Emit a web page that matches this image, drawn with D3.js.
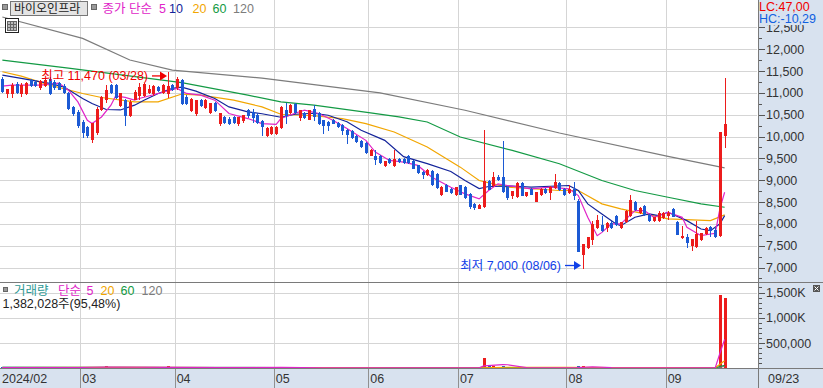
<!DOCTYPE html>
<html><head><meta charset="utf-8">
<script src="https://cdn.jsdelivr.net/npm/d3@7"></script>
<style>
body{margin:0;background:#fff;}
svg{display:block;}
text{font-family:"Liberation Sans","Noto Sans CJK KR",sans-serif;}
</style>
</head><body>
<svg id="c" width="823" height="388"></svg>
<script>
// ---------------- DATA ----------------
const dates = ["02/05","02/06","02/07","02/08","02/13","02/14","02/15","02/16","02/19","02/20","02/21","02/22","02/23","02/26","02/27","02/28","02/29",
"03/04","03/05","03/06","03/07","03/08","03/11","03/12","03/13","03/14","03/15","03/18","03/19","03/20","03/21","03/22","03/25","03/26","03/27","03/28","03/29",
"04/01","04/02","04/03","04/04","04/05","04/08","04/09","04/11","04/12","04/15","04/16","04/17","04/18","04/19","04/22","04/23","04/24","04/25","04/26","04/29","04/30",
"05/02","05/03","05/07","05/08","05/09","05/10","05/13","05/14","05/16","05/17","05/20","05/21","05/22","05/23","05/24","05/27","05/28","05/29","05/30","05/31",
"06/03","06/04","06/05","06/07","06/10","06/11","06/12","06/13","06/14","06/17","06/18","06/19","06/20","06/21","06/24","06/25","06/26","06/27","06/28",
"07/01","07/02","07/03","07/04","07/05","07/08","07/09","07/10","07/11","07/12","07/15","07/16","07/17","07/18","07/19","07/22","07/23","07/24","07/25","07/26","07/29","07/30","07/31",
"08/01","08/02","08/05","08/06","08/07","08/08","08/09","08/12","08/13","08/14","08/16","08/19","08/20","08/21","08/22","08/23","08/26","08/27","08/28","08/29","08/30",
"09/02","09/03","09/04","09/05","09/06","09/09","09/10","09/11","09/12","09/13","09/19","09/20","09/23"];

const openPrices = [11330,10990,10990,11200,10990,10990,11290,11250,11130,11180,11330,11250,11230,11160,10990,10680,10570,
10340,10220,9950,10110,10640,10870,11180,11180,10720,10830,10490,10870,10950,10950,11030,10990,11140,11030,10990,11180,
11140,11290,10910,10600,10530,10830,10680,10570,10760,10300,10450,10410,10450,10300,10370,10600,10560,10500,10350,10030,10080,
10080,10220,10600,10560,10740,10450,10530,10410,10640,10540,10370,10330,10390,10310,10260,10160,10130,10010,9910,9850,
9580,9550,9550,9340,9490,9340,9490,9490,9550,9450,9340,9190,9150,9220,9150,8690,8890,8800,8690,
8880,8840,8690,8460,8370,8400,8990,8880,9080,9070,8840,8650,8640,8930,8650,8800,8530,8690,8800,8720,8840,8930,8800,
8720,8800,8530,7310,7460,7650,7920,7980,7920,8030,8170,7920,8070,8210,8500,8270,8420,8210,8080,8080,8150,
8200,8340,8040,7690,7690,7520,7500,7650,7780,7920,7860,7740,10030];
const highPrices = [11370,11100,11220,11240,11230,11250,11310,11290,11290,11330,11360,11290,11260,11200,11020,10700,10600,
10370,10250,10300,10680,10930,11180,11210,11200,11000,10860,10830,11060,11220,11230,11180,11180,11170,11200,11470,11210,
11370,11320,10950,10890,10840,10860,10860,10770,10790,10550,10480,10440,10470,10460,10500,10630,10640,10530,10370,10220,10240,
10240,10700,10770,10740,10760,10620,10560,10620,10720,10560,10390,10350,10410,10330,10280,10180,10150,10030,9930,9870,
9710,9700,9570,9450,9510,9700,9510,9520,9570,9470,9360,9210,9260,9240,9170,8870,8910,8820,8850,
8900,8860,8710,8480,8450,10140,9010,9180,9120,9910,8860,8760,8950,8950,8730,8830,8740,8820,8820,8860,9150,8960,8830,
8880,8970,8560,7540,7700,8070,8200,8190,8040,8060,8200,8050,8310,8650,8530,8380,8440,8230,8160,8290,8270,
8300,8370,8060,7960,7770,7660,8070,7800,7920,7960,7900,10110,11350];
const lowPrices = [11030,10910,10910,11000,10930,10980,11160,11150,11080,11150,10970,11100,11080,10990,10640,10500,10220,
9990,10000,9880,10060,10600,10800,10990,10880,10690,10260,10470,10850,10870,10920,10990,10960,11040,11000,10910,11070,
11100,10750,10740,10580,10500,10690,10650,10540,10580,10270,10310,10280,10320,10270,10340,10460,10340,10320,10030,10010,10060,
10060,10200,10300,10540,10540,10390,10430,10400,10370,10290,10080,10140,10300,10210,10070,9850,9970,9880,9760,9630,
9570,9380,9400,9320,9400,9320,9420,9400,9400,9270,9170,9060,9130,8900,8830,8670,8750,8700,8670,
8680,8590,8360,8340,8360,8380,8800,8860,9010,8740,8580,8600,8620,8660,8630,8680,8520,8660,8700,8570,8820,8780,8670,
8700,8570,7370,7000,7440,7540,7900,7840,7840,7900,7980,7900,8050,8190,8320,8250,8210,8060,8060,8060,8130,
8110,8190,7760,7680,7460,7410,7480,7630,7760,7730,7710,7720,9760];
const closePrices = [11050,11080,11180,11030,11180,11230,11180,11180,11280,11290,10990,11140,11100,11030,10650,10530,10260,
10110,10030,10300,10640,10910,11060,11030,10910,10990,10490,10800,11020,11140,11200,11100,11150,11060,11180,11160,11100,
11310,10760,10760,10870,10830,10720,10830,10760,10600,10530,10340,10300,10340,10450,10490,10490,10460,10340,10240,10200,10230,
10220,10680,10490,10720,10560,10600,10450,10600,10470,10300,10260,10260,10310,10240,10140,10070,9990,9900,9780,9650,
9700,9490,9420,9440,9420,9490,9430,9420,9420,9290,9190,9150,9240,8920,8840,8850,8760,8730,8840,
8690,8610,8420,8380,8440,8990,8810,9070,9030,8760,8620,8750,8930,8670,8720,8690,8720,8800,8720,8850,8950,8800,8690,
8800,8670,7380,7540,7690,8000,8090,7850,8030,7920,8000,8040,8300,8550,8340,8370,8230,8080,8150,8240,8260,
8260,8190,7770,7730,7580,7650,7770,7780,7900,7850,7730,10100,10290];

const volumes = [21000,15000,18000,14000,16000,22000,12000,11000,17000,13000,19000,12000,10000,14000,26000,18000,24000,
28000,22000,25000,31000,27000,42000,20000,18000,23000,26000,17000,21000,19000,16000,13000,15000,12000,14000,45000,16000,
22000,30000,18000,21000,19000,14000,15000,17000,13000,20000,12000,11000,12000,14000,13000,11000,12000,15000,13000,18000,14000,
12000,38000,25000,18000,16000,14000,12000,15000,17000,16000,18000,13000,11000,10000,14000,16000,15000,13000,14000,18000,
12000,14000,11000,10000,9000,13000,10000,9000,11000,14000,15000,12000,10000,16000,18000,14000,11000,10000,12000,
13000,15000,19000,14000,12000,200000,45000,52000,30000,48000,26000,18000,22000,17000,12000,13000,11000,14000,10000,15000,20000,13000,12000,
10000,14000,45000,40000,25000,30000,22000,15000,12000,11000,13000,12000,18000,26000,15000,12000,14000,16000,10000,12000,11000,
10000,12000,18000,14000,15000,12000,11000,16000,10000,9000,11000,1447400,1382028];

const ma5 = [["02/05",11156],["02/07",11179],["02/19",11179],["02/23",11225],["02/27",11064],["02/29",10795],["03/05",10374],["03/06",10298],
["03/08",10450],["03/12",10719],["03/13",10930],["03/15",10900],["03/19",10834],["03/20",10873],["03/26",10988],["04/01",11103],["04/03",10988],
["04/08",10949],["04/12",10834],["04/17",10528],["04/23",10413],["04/26",10298],["05/02",10282],["05/03",10413],["05/09",10535],["05/13",10604],
["05/17",10528],["05/22",10374],["05/27",10183],["05/31",9914],["06/04",9645],["06/10",9454],["06/13",9415],["06/18",9339],["06/21",9070],
["06/27",8840],["07/02",8688],["07/05",8573],["07/09",8764],["07/11",8918],["07/15",8879],["07/22",8803],["07/26",8840],["08/01",8803],
["08/05",8649],["08/07",8150],["08/09",7729],["08/12",7805],["08/14",7998],["08/19",7998],["08/22",8304],["08/26",8304],["08/28",8150],
["09/02",8265],["09/05",8150],["09/06",7920],["09/11",7729],["09/13",7768],["09/19",7780],["09/20",8350],["09/23",8725]];
const ma10 = [["02/05",11409],["02/13",11333],["02/21",11218],["02/26",11140],["03/04",10873],["03/06",10758],["03/11",10620],["03/14",10610],
["03/19",10720],["03/21",10834],["03/26",10988],["03/29",11103],["04/02",11133],["04/05",11041],["04/12",10873],["04/17",10680],["04/23",10565],
["04/26",10523],["05/03",10443],["05/09",10512],["05/16",10535],["05/21",10489],["05/27",10339],["05/30",10144],["06/07",9914],["06/13",9540],
["06/20",9380],["06/27",9200],["07/02",8994],["07/05",8810],["07/09",8856],["07/16",8867],["07/22",8840],["08/01",8879],["08/05",8764],
["08/07",8458],["08/12",8228],["08/16",7998],["08/19",7959],["08/22",8151],["08/27",8228],["08/29",8189],["09/02",8265],["09/06",8074],
["09/11",7883],["09/13",7844],["09/20",8002],["09/23",8189]];
const ma20 = [["02/05",11485],["02/13",11386],["02/21",11179],["03/04",10988],["03/08",10896],["03/19",10795],["03/26",10795],["04/02",10975],
["04/08",10950],["04/18",10834],["04/26",10680],["05/03",10512],["05/16",10477],["05/24",10413],["05/31",10298],["06/11",10105],["06/20",9760],
["07/01",9300],["07/05",8994],["07/10",8918],["07/15",8840],["07/30",8764],["08/05",8764],["08/12",8458],["08/19",8343],["09/02",8113],
["09/13",8074],["09/23",8205]];
const ma60 = [["02/05",11754],["02/27",11570],["03/22",11333],["04/02",11236],["04/23",10949],["05/03",10795],["05/16",10719],["06/03",10542],
["06/12",10450],["06/20",10335],["07/01",9990],["07/16",9684],["07/30",9378],["08/12",8994],["08/22",8764],["09/02",8610],["09/11",8458],["09/23",8380]];
const ma120 = [["02/05",12740],["03/04",12250],["03/18",11754],["03/29",11524],["04/26",11340],["06/05",11002],["07/02",10604],["07/30",10082],
["09/02",9546],["09/23",9281]];

const volMa5 = [["02/05",17000],["02/29",20000],["03/11",30000],["03/29",21000],["04/15",17000],["05/03",22000],["05/20",15000],["06/14",11000],
["07/05",14000],["07/08",52000],["07/12",75000],["07/15",74000],["07/19",19000],["07/31",14000],["08/05",19000],["08/08",33000],["08/14",18000],
["09/02",13000],["09/19",12000],["09/20",300000],["09/23",575000]];
const volMa20 = [["02/05",20000],["03/15",24000],["04/15",20000],["05/16",16000],["06/14",12000],["07/05",13000],["07/15",25000],["07/31",22000],
["08/14",20000],["09/02",16000],["09/19",13000],["09/20",85000],["09/23",153000]];
const volMa60 = [["02/05",22000],["04/01",20000],["06/03",16000],["07/31",17000],["09/19",15000],["09/20",39000],["09/23",62000]];
const volMa120 = [["02/05",25000],["05/02",20000],["07/31",18000],["09/19",17000],["09/20",29000],["09/23",40000]];

const priceTicks = [7000,7500,8000,8500,9000,9500,10000,10500,11000,11500,12000,12500];
const volTicks = [500000,1000000,1500000];
const volTickLabels = ["500,000","1,000K","1,500K"];
const monthStarts = ["02/05","03/04","04/01","05/02","06/03","07/01","08/01","09/02"];
const monthLabels = ["2024/02","03","04","05","06","07","08","09"];
const lastDateLabel = "09/23";
const stockName = "바이오인프라";
const highNote = {date:"03/28", price:11470, text:"최고 11,470 (03/28)"};
const lowNote = {date:"08/06", price:7000, text:"최저 7,000 (08/06)"};

// ---------------- LAYOUT ----------------
const W = 823, H = 388;
const plotR = 757, axisX = 758;
const volTop = 282, volBase = 368;
const C = {red:"#ec1c1c", blue:"#1c5ad4", m5:"#e024c8", m10:"#13239a", m20:"#f2a600", m60:"#139a44", m120:"#7c7c7c",
  grid:"#d5d5d5", axisBg:"#d8e2ef", axisLine:"#7a7a7a", text:"#333"};

const svg = d3.select("#c");
svg.append("rect").attr("width",W).attr("height",H).attr("fill","#fff");
svg.append("rect").attr("x",axisX).attr("y",0).attr("width",W-axisX).attr("height",H).attr("fill",C.axisBg);
svg.append("rect").attr("x",0).attr("y",volBase).attr("width",W).attr("height",H-volBase).attr("fill",C.axisBg);

const x = d3.scaleBand().domain(dates).range([0, 727]).padding(0);
const bw = x.bandwidth();
const cx = d => Math.round(x(d) + bw/2);
const y = d3.scaleLinear().domain([7000,12000]).range([267.5,49.3]);
const yv = d3.scaleLinear().domain([0,1500000]).range([368.5,292.5]);

const defs = svg.append("defs");
defs.append("clipPath").attr("id","cp").append("rect").attr("x",0).attr("y",0).attr("width",plotR).attr("height",volTop);
defs.append("clipPath").attr("id","cv").append("rect").attr("x",0).attr("y",volTop+1).attr("width",plotR).attr("height",volBase-volTop-1);
defs.append("clipPath").attr("id","ca").append("rect").attr("x",axisX).attr("y",25).attr("width",W-axisX).attr("height",H-25);

// grid
const g = svg.append("g").attr("shape-rendering","crispEdges");
priceTicks.forEach(t => {
  const yy = Math.round(y(t))+0.5;
  if (yy < volTop) g.append("line").attr("x1",0).attr("x2",plotR).attr("y1",yy).attr("y2",yy).attr("stroke",C.grid);
});
volTicks.forEach(t => {
  const yy = Math.round(yv(t))+0.5;
  g.append("line").attr("x1",0).attr("x2",plotR).attr("y1",yy).attr("y2",yy).attr("stroke",C.grid);
});
monthStarts.forEach((d,i) => {
  const xx = Math.round(x(d))+0.5;
  if (i>0) {
    g.append("line").attr("x1",xx).attr("x2",xx).attr("y1",0).attr("y2",volBase).attr("stroke",C.grid);
    g.append("line").attr("x1",xx).attr("x2",xx).attr("y1",volBase).attr("y2",H).attr("stroke","#909090");
  }
  svg.append("text").attr("x",x(d)+2).attr("y",383).attr("font-size",12.5).attr("fill",C.text).text(monthLabels[i]);
});
svg.append("text").attr("x",768).attr("y",383).attr("font-size",12.5).attr("fill",C.text).text(lastDateLabel);

// frame lines
g.append("line").attr("x1",0).attr("x2",W).attr("y1",volTop+0.5).attr("y2",volTop+0.5).attr("stroke",C.axisLine);
g.append("line").attr("x1",0).attr("x2",W).attr("y1",volBase+0.5).attr("y2",volBase+0.5).attr("stroke",C.axisLine);
g.append("line").attr("x1",axisX+0.5).attr("x2",axisX+0.5).attr("y1",0).attr("y2",H).attr("stroke",C.axisLine);

// price axis ticks & labels
const ax = svg.append("g");
d3.range(6750, 13001, 250).forEach(v => {
  const yy = Math.round(y(v))+0.5;
  if (yy<26 || yy>volTop-2) return;
  const major = v % 500 === 0;
  ax.append("line").attr("x1",axisX+1).attr("x2",axisX+(major?7:4)).attr("y1",yy).attr("y2",yy)
    .attr("stroke","#555").attr("shape-rendering","crispEdges");
});
const axl = ax.append("g").attr("clip-path","url(#ca)");
priceTicks.forEach(t => {
  axl.append("text").attr("x",766).attr("y",y(t)).attr("dy","0.36em").attr("font-size",12.5).attr("fill",C.text)
    .text(d3.format(",")(t));
});
// volume axis ticks & labels
d3.range(100000, 1700001, 100000).forEach(v => {
  const yy = Math.round(yv(v))+0.5;
  if (yy < volTop+2) return;
  const major = v % 500000 === 0;
  ax.append("line").attr("x1",axisX+1).attr("x2",axisX+(major?7:4)).attr("y1",yy).attr("y2",yy)
    .attr("stroke","#555").attr("shape-rendering","crispEdges");
});
volTicks.forEach((t,i) => {
  ax.append("text").attr("x",766).attr("y",yv(t)).attr("dy","0.36em").attr("font-size",12.5).attr("fill",C.text).text(volTickLabels[i]);
});
// small icon on volume axis
ax.append("rect").attr("x",813).attr("y",285).attr("width",7).attr("height",7).attr("fill","#555");
ax.append("path").attr("d","M814.5,286.5L818.5,290.5M818.5,286.5L814.5,290.5").attr("stroke","#fff").attr("stroke-width",1);

// LC / HC
ax.append("text").attr("x",759).attr("y",10.5).attr("font-size",12.5).attr("fill","#f00000").text("LC:47,00");
ax.append("text").attr("x",759).attr("y",22.5).attr("font-size",12.5).attr("fill","#1060e0").text("HC:-10,29");

// ---------------- PRICE PANEL ----------------
const pp = svg.append("g").attr("clip-path","url(#cp)");
const line = d3.line().x(d => x(d[0]) + bw/2).y(d => y(d[1]));
[[ma120,C.m120],[ma60,C.m60],[ma20,C.m20],[ma10,C.m10],[ma5,C.m5]].forEach(([s,col]) => {
  pp.append("path").attr("d",line(s)).attr("fill","none").attr("stroke",col).attr("stroke-width",1.2);
});
const cg = pp.append("g").attr("shape-rendering","crispEdges");
dates.forEach((d,i) => {
  const o=openPrices[i], h=highPrices[i], l=lowPrices[i], c=closePrices[i];
  const col = c >= o ? C.red : C.blue;
  const xc = cx(d);
  cg.append("line").attr("x1",xc+0.5).attr("x2",xc+0.5).attr("y1",Math.round(y(h))).attr("y2",Math.round(y(l))+1).attr("stroke",col);
  const top = Math.round(y(Math.max(o,c))), bot = Math.round(y(Math.min(o,c)));
  cg.append("rect").attr("x",xc-1).attr("y",top).attr("width",3).attr("height",Math.max(1,bot-top+1)).attr("fill",col);
});

// annotations
const hx = cx(highNote.date) - 1, hy = y(highNote.price) + 3.5;
pp.append("path").attr("d",`M${hx-15},${hy}L${hx-6},${hy}`).attr("stroke","#f00000").attr("stroke-width",1.3);
pp.append("path").attr("d",`M${hx-7},${hy-4.5}L${hx},${hy}L${hx-7},${hy+4.5}Z`).attr("fill","#f00000");
pp.append("text").attr("x",hx-19).attr("y",hy).attr("dy","0.36em").attr("text-anchor","end").attr("font-size",12.5)
  .attr("fill","#f00000").text(highNote.text);
const lx = cx(lowNote.date) - 2, ly = y(lowNote.price) - 2;
pp.append("path").attr("d",`M${lx-16},${ly}L${lx-6},${ly}`).attr("stroke","#1040e8").attr("stroke-width",1.3);
pp.append("path").attr("d",`M${lx-7},${ly-4.5}L${lx},${ly}L${lx-7},${ly+4.5}Z`).attr("fill","#1040e8");
pp.append("text").attr("x",lx-20).attr("y",ly).attr("dy","0.36em").attr("text-anchor","end").attr("font-size",12.5)
  .attr("fill","#1040e8").text(lowNote.text);

// ---------------- VOLUME PANEL ----------------
const vp = svg.append("g").attr("clip-path","url(#cv)");
const vg = vp.append("g").attr("shape-rendering","crispEdges");
dates.forEach((d,i) => {
  const col = closePrices[i] >= openPrices[i] ? C.red : C.blue;
  const top = Math.min(Math.round(yv(volumes[i])), volBase-1);
  vg.append("rect").attr("x",cx(d)-1).attr("y",top).attr("width",3).attr("height",volBase-top).attr("fill",col);
});
const vline = d3.line().x(d => x(d[0]) + bw/2).y(d => yv(d[1]));
[[volMa120,C.m120],[volMa60,C.m60],[volMa20,C.m20],[volMa5,C.m5]].forEach(([s,col]) => {
  vp.append("path").attr("d",vline(s)).attr("fill","none").attr("stroke",col).attr("stroke-width",1.2);
});

// ---------------- LEGENDS ----------------
const lg = svg.append("g");
lg.append("rect").attr("x",2.5).attr("y",4.5).attr("width",5).attr("height",5).attr("fill","#999").attr("stroke","#666");
lg.append("rect").attr("x",10.5).attr("y",1.5).attr("width",77).attr("height",14).attr("fill","#e4e4e4").attr("stroke","#777");
lg.append("text").attr("x",14).attr("y",13).attr("font-size",12).attr("fill","#222")
  .attr("font-family","'Noto Sans CJK KR',sans-serif").text(stockName);
lg.append("rect").attr("x",91.5).attr("y",4.5).attr("width",5).attr("height",5).attr("fill","#999").attr("stroke","#666");
const legItems = [["종가 단순",102.5,C.m5],["5",159,C.m5],["10",169,C.m10],["20",192.5,C.m20],["60",212.5,C.m60],["120",233,C.m120]];
legItems.forEach(([t,xx,col]) => lg.append("text").attr("x",xx).attr("y",13).attr("font-size",12.5).attr("fill",col).text(t));
// table icon
lg.append("rect").attr("x",5.5).attr("y",18.5).attr("width",13).attr("height",14).attr("fill","#fff").attr("stroke","#222");
lg.append("rect").attr("x",7.5).attr("y",21.5).attr("width",9).attr("height",9).attr("fill","#bbb").attr("stroke","#666");
lg.append("path").attr("d","M10.5,21.5V30.5M13.5,21.5V30.5M7.5,24.5H16.5M7.5,27.5H16.5").attr("stroke","#666").attr("fill","none");

lg.append("rect").attr("x",3.5).attr("y",287.5).attr("width",4).attr("height",4).attr("fill","#999").attr("stroke","#666");
const volLeg = [["거래량",14,"#2f9a96"],["단순",58,C.m5],["5",86.5,C.m5],["20",100.5,C.m20],["60",120.5,C.m60],["120",141.5,C.m120]];
volLeg.forEach(([t,xx,col]) => lg.append("text").attr("x",xx).attr("y",295).attr("font-size",12.5).attr("fill",col).text(t));
lg.append("text").attr("x",2.5).attr("y",308).attr("font-size",12.5).attr("fill","#222")
  .text(d3.format(",")(volumes[volumes.length-1]) + "주(95,48%)");
</script>
</body></html>
